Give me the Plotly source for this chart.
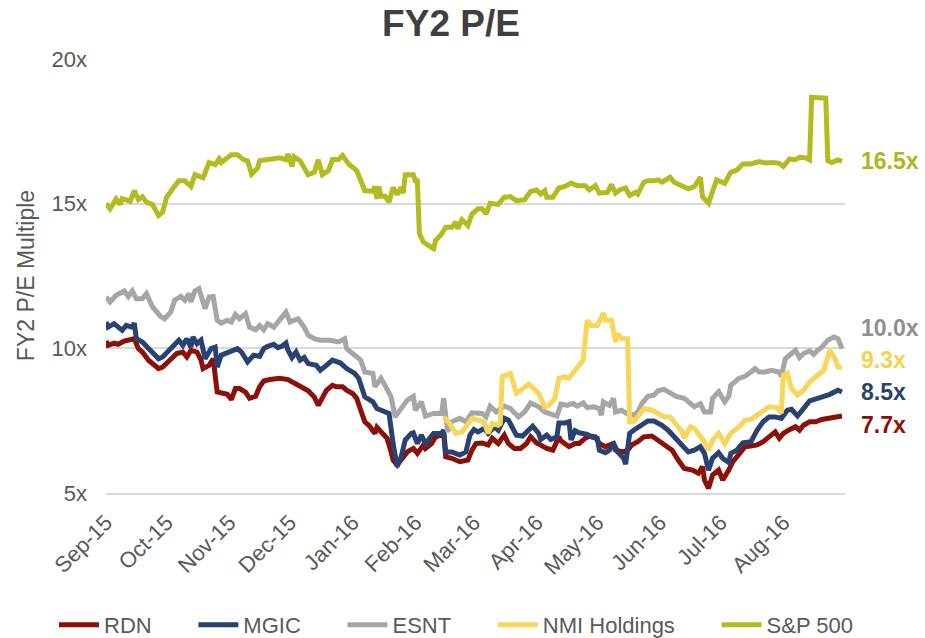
import pandas as pd
import plotly.graph_objects as go

# ---------------- data (day offsets from 1 Sep 2015, P/E multiples) ----------------
BASE_DATE = "2015-09-01"

SP500_DAYS = [0, 2, 5, 7, 8, 12, 14, 16, 18, 20, 23, 26, 28, 30, 33, 36, 39, 42, 44, 48, 51, 54, 56, 57,
              62, 65, 68, 70, 72, 75, 76, 81, 86, 89, 90, 92, 93, 96, 98, 100, 103, 105, 107, 110, 112,
              115, 117, 120, 124, 128, 132, 133, 134, 135, 136, 138, 140, 142, 144, 146, 147, 148, 152,
              153, 154, 155, 157, 160, 162, 163, 166, 168, 171, 173, 174, 176, 179, 181, 184, 186, 188,
              190, 194, 197, 200, 203, 207, 210, 213, 215, 217, 218, 221, 224, 227, 230, 233, 237, 239,
              242, 244, 248, 250, 252, 254, 257, 259, 262, 263, 266, 268, 271, 273, 275, 279, 281, 285,
              288, 291, 294, 295, 298, 302, 306, 309, 312, 315, 319, 323, 326, 330, 333, 335, 338, 341,
              343, 346, 348, 349, 356, 357, 359, 362, 364]
SP500_PE = [15.00, 14.82, 15.16, 14.97, 15.17, 15.08, 15.45, 15.14, 15.24, 15.05, 14.97, 14.59, 14.70,
            15.22, 15.51, 15.79, 15.79, 15.59, 16.00, 15.89, 16.42, 16.34, 16.54, 16.42, 16.69, 16.69,
            16.52, 16.48, 16.02, 16.23, 16.48, 16.52, 16.58, 16.52, 16.71, 16.28, 16.62, 16.48, 16.25,
            16.00, 16.08, 16.51, 16.00, 16.14, 16.52, 16.52, 16.66, 16.37, 16.14, 15.45, 15.42, 15.59,
            15.16, 15.59, 15.25, 15.25, 15.05, 15.56, 15.31, 15.56, 15.36, 16.00, 16.00, 15.79, 15.79,
            13.95, 13.67, 13.55, 13.44, 13.72, 13.95, 14.18, 14.18, 14.36, 14.13, 14.44, 14.24, 14.64,
            14.82, 14.82, 14.64, 15.01, 14.97, 15.22, 15.24, 15.10, 15.13, 15.42, 15.47, 15.33, 15.45,
            15.22, 15.22, 15.54, 15.59, 15.71, 15.62, 15.62, 15.47, 15.62, 15.36, 15.39, 15.66, 15.36,
            15.47, 15.54, 15.28, 15.39, 15.33, 15.74, 15.79, 15.79, 15.82, 15.74, 15.91, 15.74, 15.59,
            15.51, 15.59, 15.91, 15.24, 15.01, 15.82, 15.70, 16.08, 16.16, 16.37, 16.37, 16.45, 16.40,
            16.42, 16.39, 16.28, 16.54, 16.52, 16.60, 16.58, 16.51, 18.67, 18.64, 16.48, 16.42, 16.51,
            16.46]

ESNT_DAYS = [0, 2, 5, 9, 11, 13, 15, 18, 20, 23, 27, 29, 32, 34, 37, 39, 41, 42, 44, 46, 49, 51, 53, 55,
             57, 60, 62, 64, 66, 69, 71, 74, 76, 78, 80, 83, 86, 89, 91, 95, 98, 100, 103, 106, 111, 115,
             118, 119, 123, 126, 128, 132, 133, 136, 138, 141, 143, 147, 149, 152, 153, 156, 158, 162,
             166, 167, 169, 171, 175, 178, 181, 186, 188, 190, 193, 197, 200, 204, 207, 210, 214, 217,
             220, 223, 225, 228, 231, 233, 236, 238, 241, 244, 245, 246, 249, 251, 252, 255, 257, 259,
             261, 263, 265, 268, 271, 273, 276, 279, 282, 286, 289, 291, 294, 296, 299, 300, 303, 306,
             308, 309, 313, 316, 319, 321, 323, 326, 329, 333, 334, 336, 338, 341, 343, 345, 348, 350,
             352, 354, 357, 360, 362, 364]
ESNT_PE = [11.77, 11.60, 11.83, 11.98, 11.79, 11.98, 11.71, 11.71, 11.89, 11.43, 11.10, 11.02, 11.25,
           11.66, 11.79, 11.66, 11.89, 11.60, 11.98, 12.06, 11.37, 11.77, 11.79, 10.97, 10.87, 10.97,
           10.91, 11.17, 11.02, 11.20, 10.73, 10.64, 10.79, 10.64, 10.85, 10.73, 10.99, 11.25, 10.91,
           11.02, 10.73, 10.45, 10.33, 10.28, 10.28, 10.22, 10.33, 9.99, 9.76, 9.59, 9.18, 9.13, 8.67,
           8.96, 8.72, 8.32, 7.63, 7.98, 8.21, 8.34, 7.86, 8.15, 7.66, 7.75, 7.75, 8.27, 7.11, 7.46,
           7.58, 7.46, 7.77, 7.75, 7.63, 8.00, 7.80, 8.00, 7.92, 7.63, 7.80, 8.11, 7.98, 7.80, 7.72,
           7.66, 8.07, 8.03, 8.09, 8.00, 8.11, 7.95, 7.98, 7.92, 7.69, 8.15, 8.03, 8.27, 7.80, 7.86,
           7.77, 7.75, 7.69, 7.80, 8.09, 8.34, 8.38, 8.53, 8.58, 8.46, 8.34, 8.27, 8.09, 7.98, 8.09,
           7.80, 7.80, 8.27, 8.50, 8.15, 8.34, 8.72, 8.96, 9.03, 9.18, 9.30, 9.18, 9.18, 9.24, 9.18,
           9.03, 9.64, 9.76, 9.93, 9.68, 9.82, 9.91, 9.79, 9.93, 10.04, 10.28, 10.39, 10.33, 9.99]

MGIC_DAYS = [0, 1, 4, 6, 8, 10, 13, 14, 15, 18, 21, 23, 26, 28, 31, 33, 36, 38, 40, 42, 43, 45, 47, 49,
             51, 52, 54, 55, 57, 60, 62, 65, 67, 70, 73, 76, 78, 80, 83, 85, 87, 89, 90, 92, 94, 96, 98,
             100, 104, 106, 109, 112, 116, 119, 123, 125, 128, 129, 132, 134, 138, 140, 142, 144, 146,
             148, 151, 152, 154, 156, 158, 162, 166, 167, 168, 171, 175, 178, 180, 182, 184, 187, 189,
             192, 194, 197, 199, 203, 206, 209, 211, 214, 215, 218, 220, 223, 224, 227, 229, 230, 232,
             234, 238, 240, 243, 244, 247, 249, 251, 253, 256, 257, 259, 261, 265, 268, 271, 275, 278,
             281, 285, 288, 291, 294, 296, 298, 300, 303, 305, 308, 309, 312, 315, 319, 322, 325, 328,
             331, 334, 337, 339, 342, 345, 348, 352, 355, 358, 362, 364]
MGIC_PE = [10.91, 10.73, 10.85, 10.73, 10.62, 10.79, 10.73, 10.87, 10.33, 10.22, 9.99, 9.82, 9.64, 9.70,
           9.93, 10.10, 10.28, 10.10, 10.33, 10.04, 10.39, 10.16, 10.28, 9.64, 9.87, 9.99, 10.04, 9.35,
           9.76, 9.84, 9.87, 9.99, 9.87, 9.53, 9.76, 9.72, 9.99, 10.07, 10.14, 10.02, 10.07, 10.18, 9.93,
           9.68, 9.87, 9.59, 9.68, 9.47, 9.41, 9.24, 9.41, 9.59, 9.49, 9.30, 9.13, 8.96, 8.32, 8.27,
           8.15, 7.92, 7.80, 7.75, 6.71, 5.91, 6.25, 6.83, 7.06, 7.08, 6.71, 7.00, 6.71, 7.06, 7.06,
           7.17, 6.42, 6.42, 6.31, 6.42, 7.00, 7.19, 7.11, 7.23, 7.06, 7.29, 7.17, 7.58, 7.52, 7.00,
           6.97, 7.17, 7.31, 7.06, 6.85, 7.00, 6.85, 6.94, 7.42, 7.42, 7.46, 6.83, 7.15, 7.08, 7.03,
           6.94, 6.89, 6.48, 6.39, 6.48, 6.73, 6.42, 6.20, 6.00, 7.06, 7.17, 7.34, 7.49, 7.49, 7.34,
           7.17, 6.94, 6.60, 6.42, 6.48, 6.60, 6.37, 5.79, 6.20, 6.39, 6.20, 6.05, 6.37, 6.48, 6.73,
           6.77, 7.17, 7.46, 7.63, 7.63, 7.58, 7.86, 7.89, 7.66, 7.92, 8.18, 8.27, 8.34, 8.41, 8.55,
           8.49]

RDN_DAYS = [0, 1, 4, 6, 9, 14, 16, 18, 21, 23, 26, 28, 32, 35, 38, 40, 42, 45, 47, 48, 51, 53, 55, 57,
            60, 62, 64, 66, 69, 71, 74, 76, 78, 81, 86, 90, 93, 96, 100, 103, 105, 107, 109, 112, 114,
            117, 119, 122, 124, 126, 128, 130, 133, 134, 137, 139, 141, 142, 144, 147, 149, 152, 154,
            157, 158, 161, 163, 166, 167, 168, 171, 175, 179, 181, 183, 186, 189, 191, 194, 197, 199,
            202, 205, 208, 210, 213, 216, 218, 221, 224, 225, 227, 229, 232, 234, 237, 239, 242, 244,
            247, 251, 252, 256, 258, 260, 263, 266, 270, 273, 276, 280, 283, 286, 290, 293, 295, 296,
            298, 300, 303, 305, 308, 310, 314, 316, 319, 322, 325, 328, 331, 333, 335, 338, 341, 343,
            345, 348, 351, 354, 357, 360, 364]
RDN_PE = [10.25, 10.10, 10.18, 10.14, 10.25, 10.33, 9.99, 9.87, 9.59, 9.47, 9.30, 9.35, 9.59, 9.82, 9.87,
          9.70, 9.93, 9.87, 9.59, 9.30, 9.41, 9.64, 8.49, 8.44, 8.41, 8.23, 8.61, 8.61, 8.49, 8.27,
          8.34, 8.67, 8.87, 8.92, 8.96, 8.92, 8.78, 8.69, 8.53, 8.32, 8.03, 8.34, 8.55, 8.72, 8.67,
          8.67, 8.55, 8.44, 8.27, 7.86, 7.46, 7.34, 7.06, 7.27, 7.00, 6.89, 6.42, 6.14, 5.97, 6.25,
          6.42, 6.54, 6.37, 6.66, 6.54, 6.71, 6.94, 7.00, 7.06, 6.25, 6.20, 6.08, 6.14, 6.48, 6.71,
          6.73, 6.66, 6.89, 6.71, 7.00, 6.71, 6.54, 6.54, 6.71, 6.94, 6.73, 6.60, 6.54, 6.48, 6.94,
          6.80, 6.71, 6.60, 6.71, 6.71, 6.89, 6.97, 6.94, 6.71, 6.60, 6.71, 6.48, 6.42, 6.48, 6.66,
          6.77, 6.94, 6.97, 6.83, 6.66, 6.48, 6.14, 5.85, 5.79, 5.68, 5.91, 5.45, 5.16, 5.62, 5.79,
          5.45, 5.79, 6.08, 6.42, 6.60, 6.62, 6.66, 6.77, 6.94, 7.11, 6.89, 7.06, 7.19, 7.29, 7.17,
          7.34, 7.46, 7.46, 7.54, 7.58, 7.60, 7.66]

NMI_DAYS = [167, 170, 173, 176, 178, 181, 184, 187, 189, 191, 194, 195, 196, 199, 200, 203, 206, 209,
            212, 214, 217, 219, 222, 224, 227, 229, 232, 234, 236, 238, 240, 243, 244, 246, 247, 250,
            252, 253, 255, 258, 259, 261, 263, 266, 270, 273, 276, 279, 281, 285, 286, 289, 291, 294,
            296, 298, 300, 303, 306, 309, 311, 314, 316, 319, 322, 325, 328, 332, 334, 335, 337, 339,
            342, 345, 348, 352, 355, 358, 361, 362, 364]
NMI_PE = [7.63, 7.40, 7.06, 7.10, 7.29, 7.58, 7.52, 7.46, 7.06, 7.40, 7.34, 7.40, 9.03, 9.13, 9.13, 8.44,
          8.61, 8.76, 8.58, 8.44, 7.98, 8.03, 8.27, 8.96, 9.01, 8.96, 9.24, 9.41, 9.59, 10.97, 10.79,
          10.79, 10.97, 11.22, 10.97, 10.97, 10.22, 10.51, 10.33, 10.33, 7.46, 7.46, 7.63, 7.92, 7.86,
          7.75, 7.63, 7.63, 7.46, 7.11, 6.89, 7.29, 7.23, 6.94, 6.77, 6.48, 6.83, 7.06, 6.71, 7.06,
          7.17, 7.34, 7.52, 7.54, 7.69, 7.86, 7.98, 7.95, 7.75, 9.07, 9.13, 8.61, 8.38, 8.55, 8.84,
          9.07, 9.24, 9.93, 9.59, 9.35, 9.33]

SERIES_NAMES = ["RDN", "MGIC", "ESNT", "NMI Holdings", "S&P 500"]
SERIES_DAYS = [RDN_DAYS, MGIC_DAYS, ESNT_DAYS, NMI_DAYS, SP500_DAYS]
SERIES_VALUES = [RDN_PE, MGIC_PE, ESNT_PE, NMI_PE, SP500_PE]
Y_TICKS = [5, 10, 15, 20]

# ---------------- styles ----------------
COLORS = ["#8B1008", "#2A4272", "#A6A6A6", "#F7D65A", "#B3BC1F"]
LABEL_COLORS = ["#8B1008", "#2A4272", "#8F8F8F", "#F5D24E", "#AEB71C"]
# vertical position (in axis units) of the end-of-line value labels, spread to avoid overlap
LABEL_Y = [7.34, 8.48, 10.69, 9.59, 16.48]
LEGEND_PAD = "\u00a0" * 6
FONT = "Liberation Sans, Arial, sans-serif"
W, H = 925, 638
M_L, M_R, M_T, M_B = 106, 80, 58, 145
PLOT_W, PLOT_H = W - M_L - M_R, H - M_T - M_B

base = pd.Timestamp(BASE_DATE)


def to_dates(days):
    return [base + pd.Timedelta(days=int(d)) for d in days]


fig = go.Figure()
n = len(SERIES_NAMES)
for i, (name, days, vals, col) in enumerate(zip(SERIES_NAMES, SERIES_DAYS, SERIES_VALUES, COLORS)):
    fig.add_trace(go.Scatter(
        x=to_dates(days), y=vals, mode="lines",
        name=name + (LEGEND_PAD if i < n - 1 else ""),
        line=dict(color=col, width=5, shape="linear"),
    ))

annotations = []
for vals, ly, col in zip(SERIES_VALUES, LABEL_Y, LABEL_COLORS):
    annotations.append(dict(
        x=1, xref="paper", y=ly, yref="y", xanchor="left", yanchor="middle",
        xshift=14, text=f"<b>{vals[-1]:.1f}x</b>", showarrow=False,
        font=dict(family=FONT, size=23, color=col),
    ))

fig.update_layout(
    width=W, height=H,
    margin=dict(l=M_L, r=M_R, t=M_T, b=M_B, autoexpand=False),
    paper_bgcolor="white", plot_bgcolor="white",
    title=dict(text="<b>FY2 P/E</b>", x=451 / W, xref="container", xanchor="center",
               y=1 - 23 / H, yref="container", yanchor="middle",
               font=dict(family=FONT, size=37, color="#404040")),
    font=dict(family=FONT, size=21, color="#595959"),
    showlegend=True,
    legend=dict(orientation="h", xref="paper", x=(54 - M_L) / PLOT_W, xanchor="left",
                yref="paper", y=-(625 - (H - M_B)) / PLOT_H, yanchor="middle",
                font=dict(family=FONT, size=22, color="#595959"),
                itemwidth=40, tracegroupgap=0, bgcolor="rgba(0,0,0,0)"),
    annotations=annotations,
)

fig.update_xaxes(
    type="date", range=[base, base + pd.Timedelta(days=365.5)], automargin=False,
    tick0=BASE_DATE, dtick="M1", tickformat="%b-%y", tickangle=-45,
    showgrid=False, showline=True, linecolor="#D9D9D9", linewidth=2,
    ticks="", ticklabelstandoff=6,
    tickfont=dict(family=FONT, size=22, color="#595959"),
    zeroline=False,
)
fig.update_yaxes(
    range=[5, 20.03], tickvals=Y_TICKS, ticktext=[f"{v}x" for v in Y_TICKS],
    automargin=False,
    showgrid=True, gridcolor="#D9D9D9", gridwidth=2, zeroline=False,
    ticks="", ticklabelstandoff=18,
    tickfont=dict(family=FONT, size=22, color="#595959"),
    title=dict(text="FY2 P/E Multiple", standoff=10,
               font=dict(family=FONT, size=23, color="#595959")),
)

fig.write_html("out.html", post_script="document.body.style.margin='0';",
               config={"displayModeBar": False})
